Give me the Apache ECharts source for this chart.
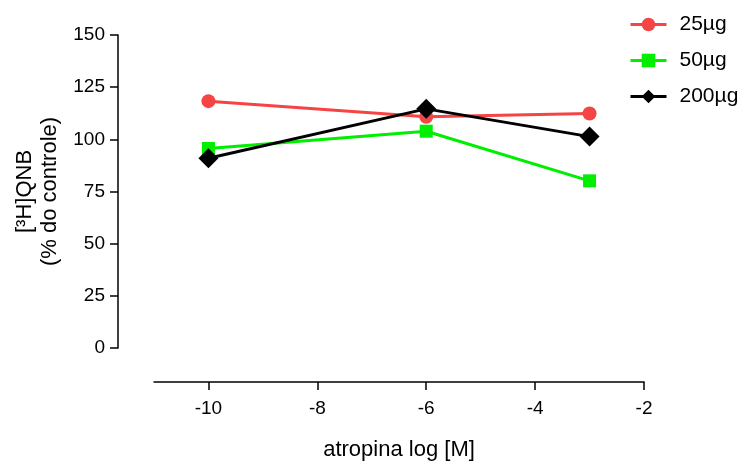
<!DOCTYPE html>
<html>
<head>
<meta charset="utf-8">
<script src="https://cdn.jsdelivr.net/npm/echarts@6/dist/echarts.min.js"></script>
<style>
  html, body { margin: 0; padding: 0; background: #fff; }
  #chart { width: 745px; height: 466px; }
</style>
</head>
<body>
<div id="chart"></div>
<script>
// dados
var logDose = [-10, -6, -3];
var serie25 = [118.3, 110.8, 112.4];
var serie50 = [95.6, 103.9, 80.1];
var serie200 = [90.9, 114.6, 101.3];
var xTicks = [-10, -8, -6, -4, -2];
var yTicks = [0, 25, 50, 75, 100, 125, 150];

function pares(ys) {
  return logDose.map(function (x, i) { return [x, ys[i]]; });
}

var fonte = 'Liberation Sans, Arial, sans-serif';

var chart = echarts.init(document.getElementById('chart'));
chart.setOption({
  animation: false,
  grid: { left: 154, right: 101, top: 35, bottom: 116, containLabel: false },
  legend: {
    orient: 'vertical',
    left: 624,
    top: 9,
    itemWidth: 36,
    itemHeight: 17,
    itemGap: 15,
    lineStyle: { width: 3 },
    textStyle: { fontFamily: fonte, fontSize: 21, color: '#000', padding: [0, 0, 0, 8] },
    data: ['25µg', '50µg', '200µg']
  },
  xAxis: {
    type: 'value',
    min: -11,
    max: -2,
    offset: 34,
    name: 'atropina log [M]',
    nameLocation: 'middle',
    nameGap: 57,
    nameTextStyle: { fontFamily: fonte, fontSize: 22, color: '#000' },
    axisLine: { onZero: false, lineStyle: { color: '#000', width: 1.5 } },
    axisTick: { length: 8, lineStyle: { color: '#000', width: 1.5 }, customValues: xTicks },
    axisLabel: { fontFamily: fonte, fontSize: 19, color: '#000', margin: 17, customValues: xTicks },
    splitLine: { show: false }
  },
  yAxis: {
    type: 'value',
    min: 0,
    max: 150,
    interval: 25,
    offset: 36,
    name: '[³H]QNB\n(% do controle)',
    nameLocation: 'middle',
    nameRotate: 90,
    nameGap: 47,
    nameTextStyle: { fontFamily: fonte, fontSize: 22, color: '#000', lineHeight: 25, align: 'center' },
    axisLine: { show: true, onZero: false, lineStyle: { color: '#000', width: 1.5 } },
    axisTick: { show: true, length: 8, lineStyle: { color: '#000', width: 1.5 }, customValues: yTicks },
    axisLabel: { fontFamily: fonte, fontSize: 19, color: '#000', margin: 13 },
    splitLine: { show: false }
  },
  series: [
    {
      name: '25µg', type: 'line', data: pares(serie25),
      symbol: 'circle', symbolSize: 14,
      lineStyle: { color: '#f44444', width: 3 },
      itemStyle: { color: '#f44444' }
    },
    {
      name: '50µg', type: 'line', data: pares(serie50),
      symbol: 'rect', symbolSize: 13,
      lineStyle: { color: '#00ee00', width: 3 },
      itemStyle: { color: '#00ee00' }
    },
    {
      name: '200µg', type: 'line', data: pares(serie200),
      symbol: 'diamond', symbolSize: 20,
      lineStyle: { color: '#000', width: 3 },
      itemStyle: { color: '#000' }
    }
  ]
});
</script>
</body>
</html>
